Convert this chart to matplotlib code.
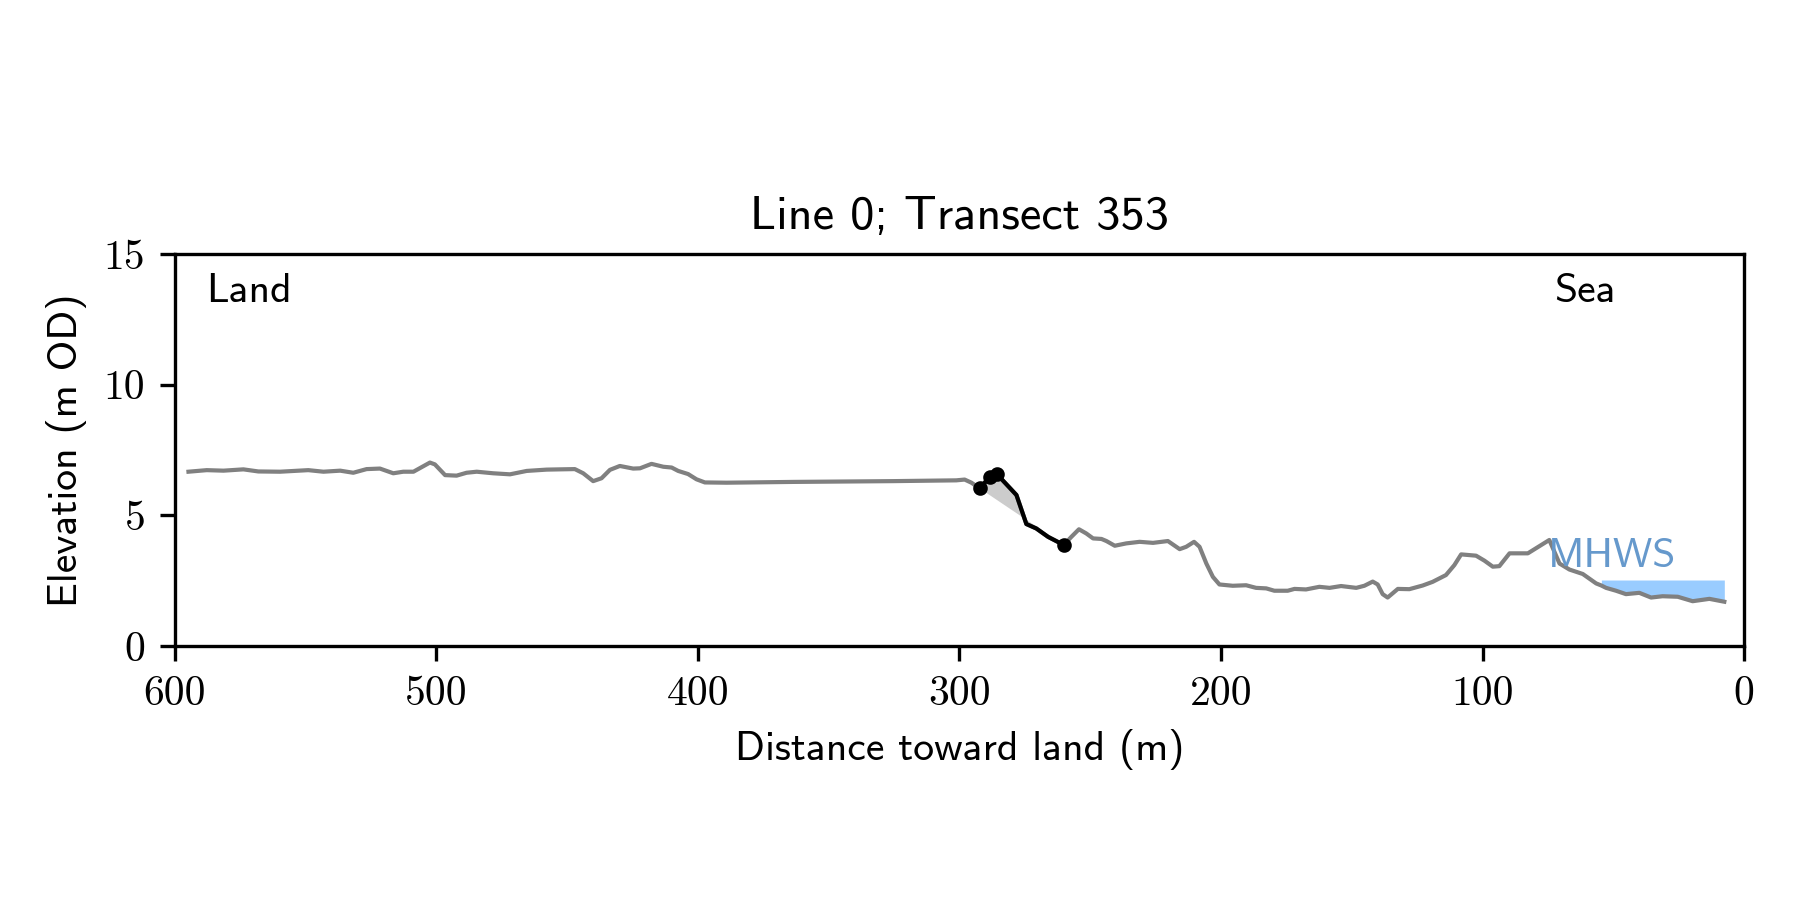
import numpy as np
import matplotlib
matplotlib.use("Agg")
import matplotlib.pyplot as plt

# Profile along the transect (distance toward land in m, elevation in m OD)
land_dist = [594.7, 587.7, 581.3, 573.7, 568.0, 559.7, 548.9, 543.1, 536.7, 531.7,
             526.6, 521.5, 516.4, 512.6, 508.7, 502.4, 500.5, 496.6, 492.2, 488.4,
             484.5, 478.2, 471.8, 465.4, 457.8, 452.7, 447.0, 443.8, 440.0, 436.8,
             433.6, 429.8, 424.7, 422.1, 417.7, 413.2, 410.0, 407.5, 403.7, 400.5,
             397.3, 389.0, 363.6, 325.4, 301.2, 298.0, 295.4]
land_elev = [6.67, 6.73, 6.71, 6.76, 6.68, 6.67, 6.73, 6.67, 6.71, 6.63,
             6.77, 6.79, 6.61, 6.67, 6.67, 7.02, 6.95, 6.54, 6.52, 6.63,
             6.67, 6.61, 6.57, 6.70, 6.75, 6.76, 6.77, 6.61, 6.31, 6.42,
             6.74, 6.89, 6.79, 6.80, 6.97, 6.86, 6.83, 6.70, 6.58, 6.38,
             6.26, 6.25, 6.28, 6.31, 6.34, 6.37, 6.25]

cliff_dist = [292.2, 288.4, 285.6, 278.2, 274.4, 270.6, 266.1, 260.1]
cliff_elev = [6.03, 6.48, 6.57, 5.78, 4.67, 4.50, 4.18, 3.87]
marker_dist = [292.2, 288.4, 285.6, 260.1]
marker_elev = [6.03, 6.48, 6.57, 3.87]

sea_dist = [257.2, 254.3, 251.5, 248.9, 245.7, 243.8, 240.6, 236.2, 231.1, 226.0,
            220.3, 215.8, 213.3, 210.3, 208.2, 205.6, 203.1, 200.6, 195.5, 190.4,
            186.6, 182.7, 179.6, 174.5, 171.9, 167.5, 162.4, 158.5, 154.1, 148.3,
            145.2, 142.0, 140.1, 138.2, 136.3, 132.4, 128.0, 122.9, 119.1, 114.0,
            110.8, 108.2, 102.5, 99.3, 96.1, 93.6, 89.7, 82.7, 74.5, 70.6,
            66.8, 61.7, 56.6, 54.6, 52.8, 49.0, 45.2, 40.1, 35.6, 31.2,
            25.4, 19.7, 13.3, 7.6]
sea_elev = [4.18, 4.47, 4.31, 4.12, 4.10, 4.02, 3.84, 3.93, 3.99, 3.95,
            4.02, 3.71, 3.80, 3.99, 3.80, 3.16, 2.65, 2.36, 2.31, 2.33,
            2.23, 2.21, 2.12, 2.12, 2.19, 2.17, 2.27, 2.23, 2.30, 2.23,
            2.31, 2.47, 2.36, 1.99, 1.86, 2.19, 2.18, 2.32, 2.46, 2.72,
            3.10, 3.51, 3.46, 3.27, 3.04, 3.06, 3.55, 3.55, 4.06, 3.16,
            2.93, 2.76, 2.40, 2.32, 2.23, 2.12, 1.99, 2.04, 1.86, 1.91,
            1.89, 1.72, 1.81, 1.70]

mhws = 2.53
mhws_start = 54.6

dist = np.array(land_dist + cliff_dist + sea_dist)
elev = np.array(land_elev + cliff_elev + sea_elev)

fig = plt.figure(figsize=(6, 3), dpi=300)
ax = fig.add_axes([0.097, 0.282, 0.872, 0.436])

sea = dist <= mhws_start
ax.fill_between(dist[sea], elev[sea], mhws, color="#99ccff", lw=0)
ax.plot(dist, elev, color="gray", lw=1.0, solid_joinstyle="round")
ax.fill(cliff_dist, cliff_elev, color="0.8", lw=0)
ax.plot(cliff_dist, cliff_elev, color="black", lw=1.0, solid_joinstyle="round")
ax.plot(marker_dist, marker_elev, "o", color="black", ms=2.5)

ax.text(75.2, 3.04, "MHWS", color="#6699cc", fontsize=10, fontfamily="cmss10",
        ha="left", va="baseline")
ax.text(0.02, 0.95, "Land", transform=ax.transAxes, fontsize=10,
        fontfamily="cmss10", ha="left", va="top")
ax.text(0.918, 0.95, "Sea", transform=ax.transAxes, fontsize=10,
        fontfamily="cmss10", ha="right", va="top")

ax.set_xlim(600, 0)
ax.set_ylim(0, 15)
ax.set_xticks([600, 500, 400, 300, 200, 100, 0],
              labels=["600", "500", "400", "300", "200", "100", "0"],
              fontfamily="cmr10", fontsize=10)
ax.set_yticks([0, 5, 10, 15], labels=["0", "5", "10", "15"],
              fontfamily="cmr10", fontsize=10)
ax.set_xlabel("Distance toward land (m)", fontfamily="cmss10", fontsize=10)
ax.set_ylabel("Elevation (m OD)", fontfamily="cmss10", fontsize=10)
ax.set_title("Line 0; Transect 353", fontfamily="cmss10", fontsize=11.6)

fig.savefig("out.png", dpi=300)
